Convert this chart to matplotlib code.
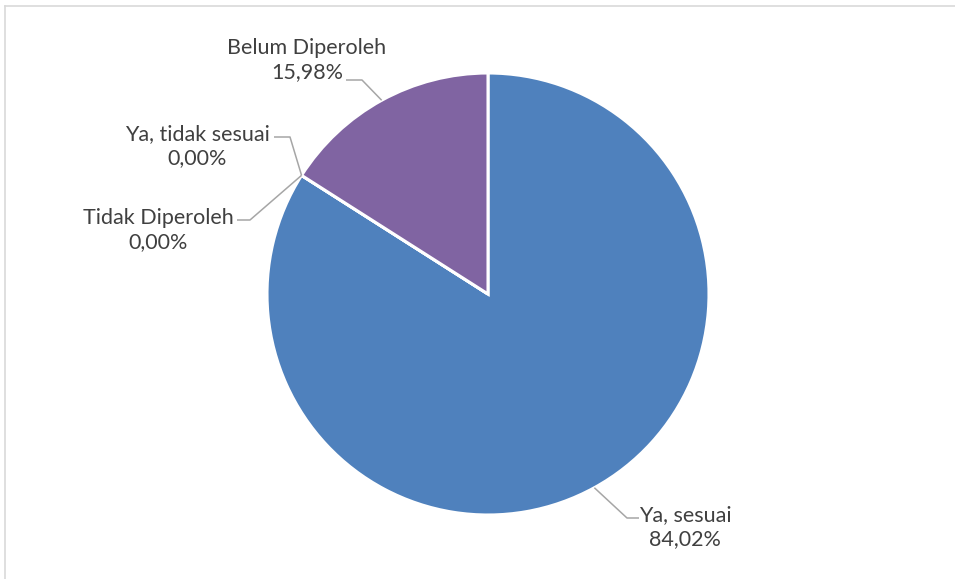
import numpy as np
import matplotlib.pyplot as plt

labels = ["Ya, sesuai", "Tidak Diperoleh", "Ya, tidak sesuai", "Belum Diperoleh"]
values = [84.02, 0.00, 0.00, 15.98]
colors = ["#4F81BD", "#C0504D", "#9BBB59", "#8064A2"]

# label text centre, elbow point and text-side end of each leader line (pixel coords, y down)
text_pos = [(685, 527), (158, 230), (197, 146), (307, 60)]
elbow = [(627, 518), (250, 220), (290, 137), (362, 80)]
line_end = [(639, 518), (237, 220), (274, 137), (346, 80)]

W, H = 955, 579
cx, cy, r = 488, 294, 221

plt.rcParams['font.family'] = ['Lato', 'DejaVu Sans']
fig = plt.figure(figsize=(W / 100, H / 100), dpi=100)
ax = fig.add_axes([0, 0, 1, 1])
ax.set_xlim(0, W)
ax.set_ylim(0, H)
ax.set_aspect('equal')
ax.axis('off')

wedges, _ = ax.pie(values, colors=colors, startangle=90, counterclock=False,
                   center=(cx, H - cy), radius=r,
                   wedgeprops=dict(edgecolor='white', linewidth=2.2))
ax.set_xlim(0, W)
ax.set_ylim(0, H)

for w, lab, v, tp, el, le in zip(wedges, labels, values, text_pos, elbow, line_end):
    mid = np.deg2rad((w.theta1 + w.theta2) / 2)
    px = cx + r * np.cos(mid)
    py = (H - cy) + r * np.sin(mid)
    ax.plot([px, el[0], le[0]], [py, H - el[1], H - le[1]],
            color='#A6A6A6', lw=1.1, solid_capstyle='butt')
    txt = "%s\n%s%%" % (lab, ("%.2f" % v).replace('.', ','))
    ax.text(tp[0], H - tp[1], txt, ha='center', va='center', fontsize=15.5,
            color='#404040', linespacing=1.3)

# chart area frame
ax.plot([4.5, W], [H - 5.5, H - 5.5], color='#D9D9D9', lw=1.2)
ax.plot([4.5, 4.5], [0, H - 5.5], color='#D9D9D9', lw=1.2)

fig.savefig("out.png", dpi=100)
